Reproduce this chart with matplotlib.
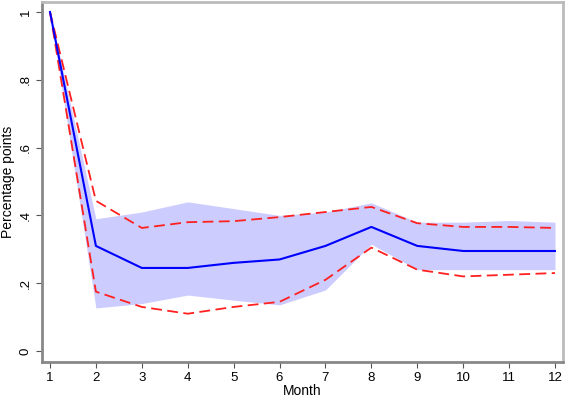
import matplotlib
matplotlib.use("Agg")
import matplotlib.pyplot as plt

months = [1, 2, 3, 4, 5, 6, 7, 8, 9, 10, 11, 12]
mean = [1.0, 0.31, 0.245, 0.245, 0.26, 0.27, 0.31, 0.366, 0.31, 0.295, 0.295, 0.295]
band_lo = [1.0, 0.127, 0.14, 0.165, 0.15, 0.136, 0.18, 0.315, 0.24, 0.24, 0.24, 0.24]
band_hi = [1.0, 0.39, 0.41, 0.44, 0.42, 0.40, 0.41, 0.437, 0.38, 0.38, 0.385, 0.38]
red_lo = [1.0, 0.175, 0.13, 0.11, 0.13, 0.145, 0.21, 0.305, 0.24, 0.22, 0.225, 0.23]
red_hi = [1.0, 0.443, 0.363, 0.38, 0.383, 0.395, 0.41, 0.425, 0.377, 0.366, 0.366, 0.363]
yticks = [0, 0.2, 0.4, 0.6, 0.8, 1.0]
ylabels = ["0", ".2", ".4", ".6", ".8", "1"]

plt.rcParams['font.family'] = ['Liberation Sans', 'DejaVu Sans']
fig = plt.figure(figsize=(5.65, 3.99), dpi=100)
ax = fig.add_axes([42/565, 37/399, 521/565, 360/399])

ax.fill_between(months, band_lo, band_hi, color='#ccccff', linewidth=0, zorder=1)
ax.plot(months, mean, color='#0000ff', linewidth=1.5, zorder=3)
ax.plot(months, red_lo, color='#ff2020', linewidth=1.3, dashes=(6, 3), zorder=2)
ax.plot(months, red_hi, color='#ff2020', linewidth=1.3, dashes=(6, 3), zorder=2)

ax.set_xlim(1 - 8/45.9, 12 + 8/45.9)
ax.set_ylim(-11/339, 1 + 10/339)
ax.set_xticks(months)
ax.set_yticks(yticks)
ax.set_yticklabels(ylabels, rotation=90, va='center')
ax.tick_params(labelsize=9.5, color='#555555', length=4)
ax.set_xlabel("Month", fontsize=10, labelpad=0)
ax.set_ylabel("Percentage points", fontsize=10, labelpad=3)
for s in ['left', 'bottom']:
    ax.spines[s].set_color('#888888')
    ax.spines[s].set_linewidth(2)
for s in ['top', 'right']:
    ax.spines[s].set_color('#bbbbbb')
    ax.spines[s].set_linewidth(2)

fig.savefig("out.png", dpi=100)
